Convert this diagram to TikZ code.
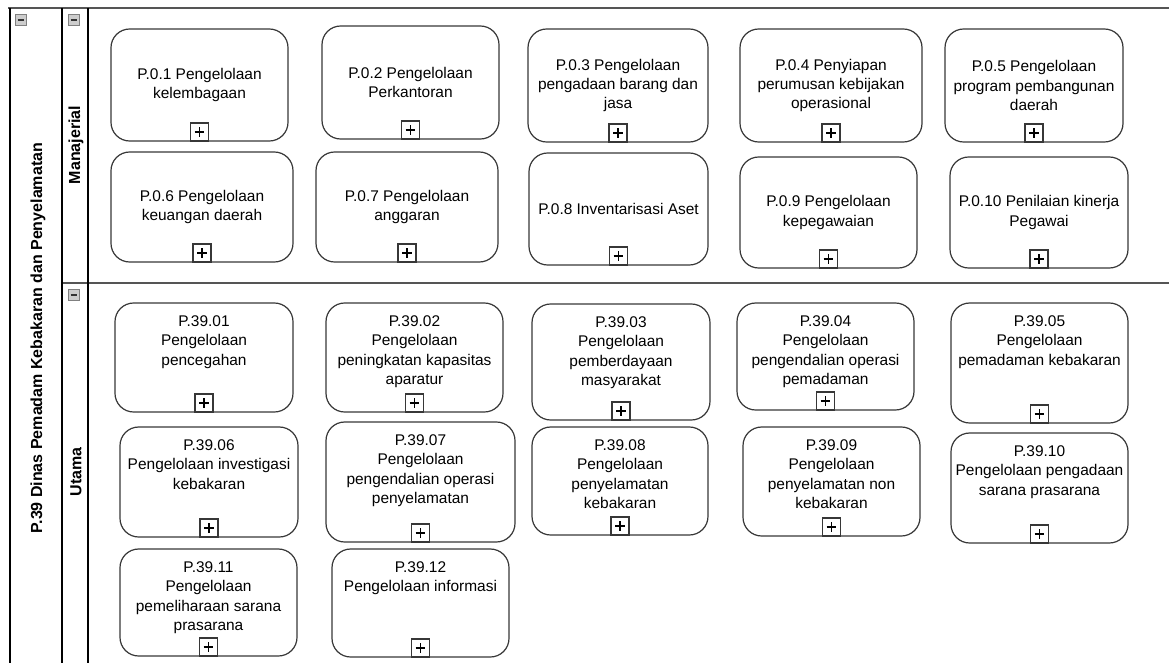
\documentclass[tikz,border=0pt]{standalone}
\usepackage{fontspec}
\setmainfont{Liberation Sans}
\usetikzlibrary{fit}
\definecolor{boxline}{RGB}{55,55,55}
\definecolor{laneline}{RGB}{85,85,85}
\definecolor{iconfill}{RGB}{205,205,205}

\tikzset{
  prc/.style={draw=boxline, line width=0.9pt, rounded corners=14pt, inner sep=0pt},
  mtxt/.style={anchor=center, inner sep=0pt, align=center,
    font=\fontsize{11.6}{14.6}\selectfont},
  utxt/.style={anchor=north, inner sep=0pt, yshift=-9.75pt, align=center,
    font=\fontsize{11.6}{14.6}\selectfont},
  plusbox/.style={draw=boxline, line width=0.9pt, fill=white, minimum size=13.5pt,
    inner sep=0pt, anchor=south, rounded corners=0pt,
    path picture={
      \draw[line width=0.8pt,black] ([xshift=-3.6pt]path picture bounding box.center) -- ([xshift=3.6pt]path picture bounding box.center);
      \draw[line width=0.8pt,black] ([yshift=-3.6pt]path picture bounding box.center) -- ([yshift=3.6pt]path picture bounding box.center);
    }},
  minusbox/.style={draw=gray, line width=0.5pt, fill=iconfill, minimum size=8pt, inner sep=0pt,
    path picture={
      \draw[line width=1.3pt,black!80] ([xshift=-2.6pt]path picture bounding box.center) -- ([xshift=2.6pt]path picture bounding box.center);
    }},
  lanetitle/.style={rotate=90, inner sep=0pt, font=\bfseries\fontsize{12}{14}\selectfont},
}

\begin{document}
\begin{tikzpicture}[x=0.75pt, y=-0.75pt]
\useasboundingbox (0,0) rectangle (1169,663);

% pool and lanes
\coordinate (topL) at (8,8);
\coordinate (topR) at (1169,8);
\coordinate (divL) at (62,283);
\coordinate (divR) at (1169,283);
\draw[laneline, line width=1.6pt] (topL) -- (topR);
\draw[laneline, line width=1.6pt] (divL) -- (divR);
\draw[line width=1pt] (10,8) -- (10,663);
\draw[line width=1pt] (62,8) -- (62,663);
\draw[line width=1pt] (88,8) -- (88,663);

\node[minusbox] (poolmin) at (21,20) {};
\node[minusbox] (manmin) at (74,20) {};
\node[minusbox] (utamin) at (74,295) {};

\node[lanetitle] (pool) at (38,338) {P.39 Dinas Pemadam Kebakaran dan Penyelamatan};
\node[lanetitle] (lman) at (76,145) {Manajerial};
\node[lanetitle] (luta) at (76,472) {Utama};

% Manajerial
\node[prc, fit={(111,29)(288,141)}] (m1) {};
\node[prc, fit={(322,26)(499,139)}] (m2) {};
\node[prc, fit={(528,29)(708,142)}] (m3) {};
\node[prc, fit={(740,29)(922,142)}] (m4) {};
\node[prc, fit={(945,29)(1123,142)}] (m5) {};
\node[prc, fit={(111,152)(293,262)}] (m6) {};
\node[prc, fit={(316,152)(498,262)}] (m7) {};
\node[prc, fit={(529,153)(708,265)}] (m8) {};
\node[prc, fit={(740,157)(917,268)}] (m9) {};
\node[prc, fit={(950,157)(1128,268)}] (m10) {};

\node[mtxt] (m1t) at (m1.center) {P.0.1 Pengelolaan\\kelembagaan};
\node[mtxt] (m2t) at (m2.center) {P.0.2 Pengelolaan\\Perkantoran};
\node[mtxt] (m3t) at (m3.center) {P.0.3 Pengelolaan\\pengadaan barang dan\\jasa};
\node[mtxt] (m4t) at (m4.center) {P.0.4 Penyiapan\\perumusan kebijakan\\operasional};
\node[mtxt] (m5t) at (m5.center) {P.0.5 Pengelolaan\\program pembangunan\\daerah};
\node[mtxt] (m6t) at (m6.center) {P.0.6 Pengelolaan\\keuangan daerah};
\node[mtxt] (m7t) at (m7.center) {P.0.7 Pengelolaan\\anggaran};
\node[mtxt] (m8t) at (m8.center) {P.0.8 Inventarisasi Aset};
\node[mtxt] (m9t) at (m9.center) {P.0.9 Pengelolaan\\kepegawaian};
\node[mtxt] (m10t) at (m10.center) {P.0.10 Penilaian kinerja\\Pegawai};

% Utama
\node[prc, fit={(115,303)(293,412)}] (u1) {};
\node[prc, fit={(326,303)(503,412)}] (u2) {};
\node[prc, fit={(532,304)(710,420)}] (u3) {};
\node[prc, fit={(737,303)(914,410)}] (u4) {};
\node[prc, fit={(951,303)(1128,423)}] (u5) {};
\node[prc, fit={(120,427)(298,537)}] (u6) {};
\node[prc, fit={(326,422)(515,542)}] (u7) {};
\node[prc, fit={(532,427)(708,535)}] (u8) {};
\node[prc, fit={(743,427)(920,536)}] (u9) {};
\node[prc, fit={(951,433)(1128,543)}] (u10) {};
\node[prc, fit={(120,549)(297,656)}] (u11) {};
\node[prc, fit={(332,549)(509,657)}] (u12) {};

\node[utxt] (u1t) at (u1.north) {P.39.01\\Pengelolaan\\pencegahan};
\node[utxt] (u2t) at (u2.north) {P.39.02\\Pengelolaan\\peningkatan kapasitas\\aparatur};
\node[utxt] (u3t) at (u3.north) {P.39.03\\Pengelolaan\\pemberdayaan\\masyarakat};
\node[utxt] (u4t) at (u4.north) {P.39.04\\Pengelolaan\\pengendalian operasi\\pemadaman};
\node[utxt] (u5t) at (u5.north) {P.39.05\\Pengelolaan\\pemadaman kebakaran};
\node[utxt] (u6t) at (u6.north) {P.39.06\\Pengelolaan investigasi\\kebakaran};
\node[utxt] (u7t) at (u7.north) {P.39.07\\Pengelolaan\\pengendalian operasi\\penyelamatan};
\node[utxt] (u8t) at (u8.north) {P.39.08\\Pengelolaan\\penyelamatan\\kebakaran};
\node[utxt] (u9t) at (u9.north) {P.39.09\\Pengelolaan\\penyelamatan non\\kebakaran};
\node[utxt] (u10t) at (u10.north) {P.39.10\\Pengelolaan pengadaan\\sarana prasarana};
\node[utxt] (u11t) at (u11.north) {P.39.11\\Pengelolaan\\pemeliharaan sarana\\prasarana};
\node[utxt] (u12t) at (u12.north) {P.39.12\\Pengelolaan informasi};

% sub-process markers
\foreach \b in {m1,m2,m3,m4,m5,m6,m7,m8,m9,m10,u1,u2,u3,u4,u5,u6,u7,u8,u9,u10,u11,u12}
  \node[plusbox] (\b p) at (\b.south) {};

\end{tikzpicture}
\end{document}
